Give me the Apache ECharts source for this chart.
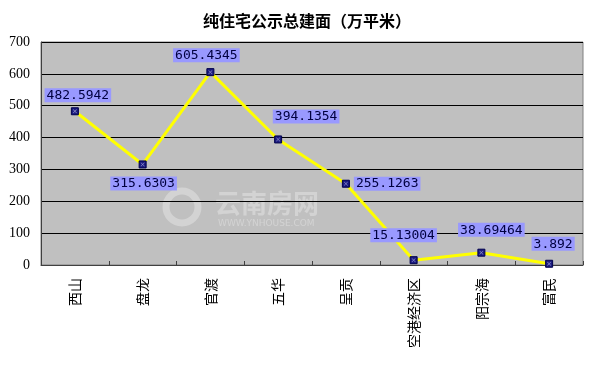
<!DOCTYPE html>
<html>
<head>
<meta charset="utf-8">
<script src="https://cdn.jsdelivr.net/npm/echarts@6/dist/echarts.min.js"></script>
<style>html,body{margin:0;padding:0;background:#fff;}#c{width:600px;height:384px;}</style>
</head>
<body>
<div id="c"></div>
<script>
var categories = ['西山', '盘龙', '官渡', '五华', '呈贡', '空港经济区', '阳宗海', '富民'];
var values = [482.5942, 315.6303, 605.4345, 394.1354, 255.1263, 15.13004, 38.69464, 3.892];
var yTicks = {min: 0, max: 700, interval: 100};

// label placement per point (style only)
var labelPlace = [
  {position: 'top', distance: 5, offset: [3, 0]},
  {position: 'bottom', distance: 8, offset: [1, 0]},
  {position: 'top', distance: 6, offset: [-4, 0]},
  {position: 'top', distance: 12, offset: [28, 0]},
  {position: 'right', distance: 4, offset: [0, 0]},
  {position: 'top', distance: 14, offset: [-10, 0]},
  {position: 'top', distance: 12, offset: [10, 0]},
  {position: 'top', distance: 9, offset: [4, 0]}
];

var seriesData = values.map(function (v, i) {
  return {value: v, label: labelPlace[i]};
});

var chart = echarts.init(document.getElementById('c'));
chart.setOption({
  animation: false,
  backgroundColor: '#ffffff',
  title: {
    text: '纯住宅公示总建面（万平米）',
    left: 302, textAlign: 'center', top: 8,
    textStyle: {fontFamily: 'Noto Sans CJK SC', fontSize: 16, fontWeight: 'bold', color: '#000'}
  },
  graphic: [
    {type: 'circle', shape: {cx: 182, cy: 207, r: 16}, silent: true,
      style: {fill: 'none', stroke: 'rgba(255,255,255,0.3)', lineWidth: 7}},
    {type: 'text', left: 215, top: 190, silent: true,
      style: {text: '云南房网', fill: 'rgba(255,255,255,0.3)', font: 'bold 26px "Noto Sans CJK SC"'}},
    {type: 'text', left: 218, top: 219, silent: true,
      style: {text: 'WWW.YNHOUSE.COM', fill: 'rgba(255,255,255,0.3)', font: '9px "DejaVu Sans"'}}
  ],
  grid: {
    left: 41, right: 17, top: 42, bottom: 119,
    show: true, backgroundColor: '#c0c0c0', borderColor: '#808080', borderWidth: 1
  },
  xAxis: {
    type: 'category',
    data: categories,
    boundaryGap: true,
    axisLine: {lineStyle: {color: '#404040', width: 1}},
    axisTick: {show: true, inside: true, length: 4, lineStyle: {color: '#404040'}},
    axisLabel: {
      rotate: 90, margin: 13, color: '#000',
      fontFamily: 'Noto Sans CJK SC', fontSize: 14
    }
  },
  yAxis: {
    type: 'value',
    min: yTicks.min, max: yTicks.max, interval: yTicks.interval,
    axisLine: {show: true, lineStyle: {color: '#404040', width: 1}},
    axisTick: {show: false},
    splitLine: {show: true, lineStyle: {color: '#000', width: 1}},
    axisLabel: {
      margin: 11, color: '#000',
      fontFamily: 'Liberation Serif', fontSize: 14
    }
  },
  series: [{
    type: 'line',
    data: seriesData,
    lineStyle: {color: '#ffff00', width: 3},
    symbol: 'rect',
    symbolSize: 7,
    itemStyle: {color: '#1a1a80', borderColor: '#00004d', borderWidth: 1},
    label: {
      show: true,
      formatter: function (p) { return String(p.value); },
      backgroundColor: '#9999ff',
      color: '#000040',
      fontFamily: 'DejaVu Sans Mono',
      fontSize: 13,
      padding: [1, 2, 0, 2]
    }
  }, {
    type: 'scatter',
    data: values,
    symbol: 'path://M0,1 L1,0 L5,4 L9,0 L10,1 L6,5 L10,9 L9,10 L5,6 L1,10 L0,9 L4,5 Z',
    symbolSize: 4,
    itemStyle: {color: '#b0b0e0'},
    silent: true,
    z: 3
  }]
});
</script>
</body>
</html>
